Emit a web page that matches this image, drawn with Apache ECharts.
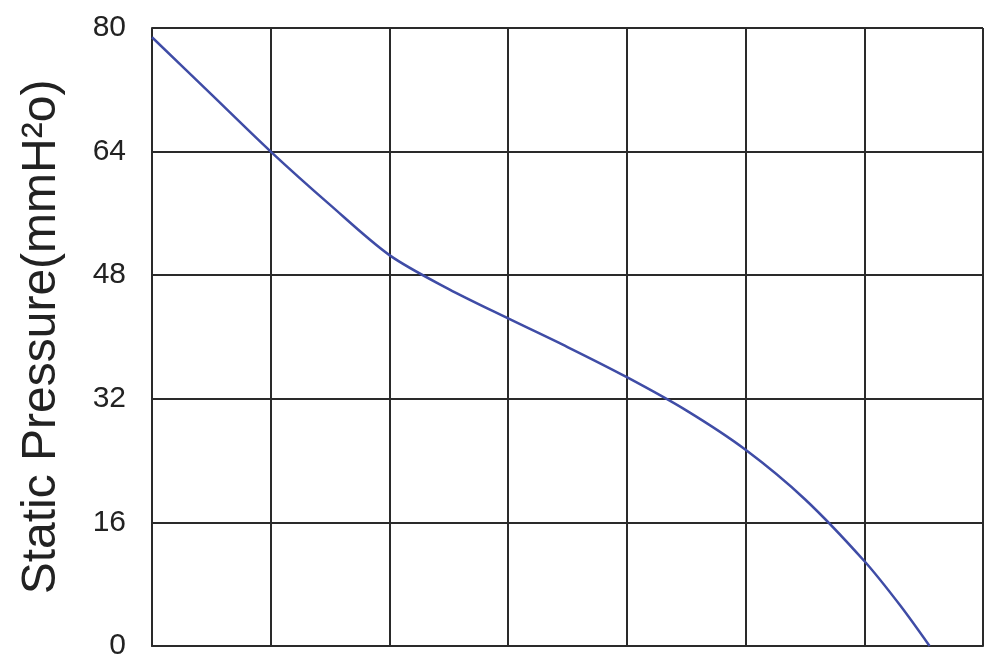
<!DOCTYPE html>
<html>
<head>
<meta charset="utf-8">
<script src="https://cdn.jsdelivr.net/npm/echarts@6/dist/echarts.min.js"></script>
<style>
html,body{margin:0;padding:0;background:#fff;}
#chart{width:1001px;height:661px;}
</style>
</head>
<body>
<div id="chart"></div>
<script>
// Data
var flowPoints = [0, 0.5, 1, 1.5, 2, 2.5, 3, 3.5, 4, 4.5, 5, 5.5, 6, 6.3, 6.55];
var staticPressure = [78.8, 71.4, 64, 57.1, 50.6, 46.2, 42.4, 38.7, 34.8, 30.5, 25.4, 19.0, 11.0, 5.3, 0];
var yTicks = [0, 16, 32, 48, 64, 80];
var yAxisName = 'Static Pressure(mmH\u00B2o)';

var seriesData = flowPoints.map(function (x, i) { return [x, staticPressure[i]]; });

var chart = echarts.init(document.getElementById('chart'), null, {renderer: 'canvas'});
chart.setOption({
  backgroundColor: '#ffffff',
  animation: false,
  grid: {left: 152, right: 18, top: 28, bottom: 6, containLabel: false},
  xAxis: {
    type: 'value',
    min: 0,
    max: 7,
    interval: 1,
    axisLabel: {show: false},
    axisTick: {show: false},
    axisLine: {show: true, lineStyle: {color: '#2a2a2a', width: 2}},
    splitLine: {show: true, lineStyle: {color: '#2a2a2a', width: 2}}
  },
  yAxis: {
    type: 'value',
    min: yTicks[0],
    max: yTicks[yTicks.length - 1],
    interval: 16,
    name: yAxisName,
    nameLocation: 'middle',
    nameGap: 86,
    nameTextStyle: {fontSize: 48, color: '#222', fontFamily: 'Liberation Sans, Arial, sans-serif'},
    axisLabel: {fontSize: 30, color: '#222', margin: 26, fontFamily: 'Liberation Sans, Arial, sans-serif'},
    axisTick: {show: false},
    axisLine: {show: true, lineStyle: {color: '#2a2a2a', width: 2}},
    splitLine: {show: true, lineStyle: {color: '#2a2a2a', width: 2}}
  },
  series: [{
    type: 'line',
    data: seriesData,
    smooth: 0.3,
    showSymbol: false,
    lineStyle: {color: '#3f4ca6', width: 2.5},
    z: 5
  }]
});
</script>
</body>
</html>
